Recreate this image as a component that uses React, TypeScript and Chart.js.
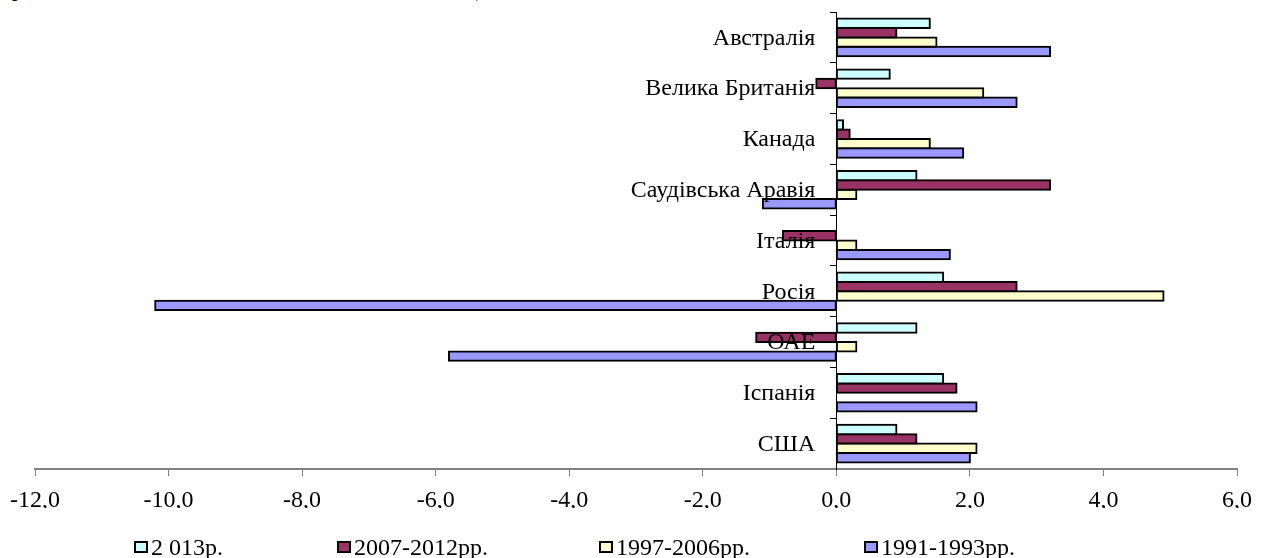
import React, { useEffect, useRef } from "react";
import { Chart, registerables } from "chart.js";

Chart.register(...registerables);

const categories = [
  "Австралія",
  "Велика Британія",
  "Канада",
  "Саудівська Аравія",
  "Італія",
  "Росія",
  "ОАЕ",
  "Іспанія",
  "США",
];

const seriesNames = ["2 013р.", "2007-2012рр.", "1997-2006рр.", "1991-1993рр."];

const values2013 = [1.4, 0.8, 0.1, 1.2, 0, 1.6, 1.2, 1.6, 0.9];
const values2007_2012 = [0.9, -0.3, 0.2, 3.2, -0.8, 2.7, -1.2, 1.8, 1.2];
const values1997_2006 = [1.5, 2.2, 1.4, 0.3, 0.3, 4.9, 0.3, 0, 2.1];
const values1991_1993 = [3.2, 2.7, 1.9, -1.1, 1.7, -10.2, -5.8, 2.1, 2.0];

const xMin = -12;
const xMax = 6;
const xStep = 2;

const colors = ["#CCFFFF", "#993366", "#FFFFCC", "#9999FF"];
const legendX = [134, 337, 599, 864];

const FONT = "'Liberation Serif', 'Times New Roman', serif";

const categoryLabelPlugin = {
  id: "categoryLabels",
  afterDatasetsDraw(chart: any) {
    const { ctx, scales } = chart;
    const xs = scales.x;
    const ys = scales.y;
    const x0 = xs.getPixelForValue(0);
    ctx.save();
    ctx.font = `24px ${FONT}`;
    ctx.fillStyle = "#000000";
    ctx.textAlign = "right";
    ctx.textBaseline = "middle";
    categories.forEach((c, i) => {
      ctx.fillText(c, x0 - 21, ys.getPixelForValue(i) + 1);
    });
    ctx.restore();
  },
};

export default function App() {
  const canvasRef = useRef<HTMLCanvasElement | null>(null);

  useEffect(() => {
    document.body.style.margin = "0";
    const canvas = canvasRef.current;
    if (!canvas) return;
    const allSeries = [values2013, values2007_2012, values1997_2006, values1991_1993];
    const chart = new Chart(canvas, {
      type: "bar",
      data: {
        labels: categories,
        datasets: allSeries.map((vals, i) => ({
          label: seriesNames[i],
          data: vals,
          backgroundColor: colors[i],
          borderColor: "#000000",
          borderWidth: (ctx: any) => (ctx.raw === 0 ? 0 : 2),
          borderSkipped: false,
          inflateAmount: (ctx: any) => (ctx.raw === 0 ? 0 : 1),
          categoryPercentage: 0.74,
          barPercentage: 1,
        })),
      },
      plugins: [categoryLabelPlugin],
      options: {
        indexAxis: "y",
        responsive: false,
        animation: false,
        layout: { padding: { left: 35, right: 27, top: 12, bottom: 50 } },
        plugins: {
          legend: { display: false },
          tooltip: { enabled: false },
        },
        scales: {
          x: {
            type: "linear",
            min: xMin,
            max: xMax,
            position: "bottom",
            afterFit: (scale: any) => {
              scale.height = 39;
            },
            ticks: {
              stepSize: xStep,
              color: "#000000",
              padding: 10,
              font: { family: FONT, size: 24 },
              callback: (v: any) => Number(v).toFixed(1).replace(".", ","),
            },
            grid: {
              drawOnChartArea: false,
              drawTicks: true,
              tickLength: 7,
              color: "#808080",
              lineWidth: 1,
            },
            border: { display: true, color: "#808080", width: 2 },
          },
          y: {
            type: "category",
            position: { x: 0 } as any,
            offset: true,
            ticks: { display: false },
            grid: {
              offset: true,
              drawOnChartArea: false,
              drawTicks: true,
              tickLength: 6,
              color: "#000000",
              lineWidth: 1,
            },
            border: { display: true, color: "#000000", width: 1 },
          },
        },
      } as any,
    });
    return () => chart.destroy();
  }, []);

  return (
    <div style={{ position: "relative", width: 1264, height: 558, overflow: "hidden", fontFamily: FONT }}>
      <span style={{ position: "absolute", left: 0, top: -25, fontSize: 24, color: "#000" }}>країни.</span>
      <span style={{ position: "absolute", left: 466, top: -25, fontSize: 24, color: "#000" }}>з).</span>
      <canvas ref={canvasRef} width={1264} height={558} style={{ position: "absolute", left: 0, top: 0 }} />
      {seriesNames.map((name, i) => (
        <div
          key={name}
          style={{
            position: "absolute",
            left: legendX[i],
            top: 533,
            height: 28,
            display: "flex",
            alignItems: "center",
            fontSize: 24,
            lineHeight: "28px",
            color: "#000",
            whiteSpace: "nowrap",
          }}
        >
          <span
            style={{
              display: "inline-block",
              width: 10,
              height: 8,
              background: colors[i],
              border: "2px solid #000",
              marginRight: 3,
            }}
          />
          <span>{name}</span>
        </div>
      ))}
    </div>
  );
}
